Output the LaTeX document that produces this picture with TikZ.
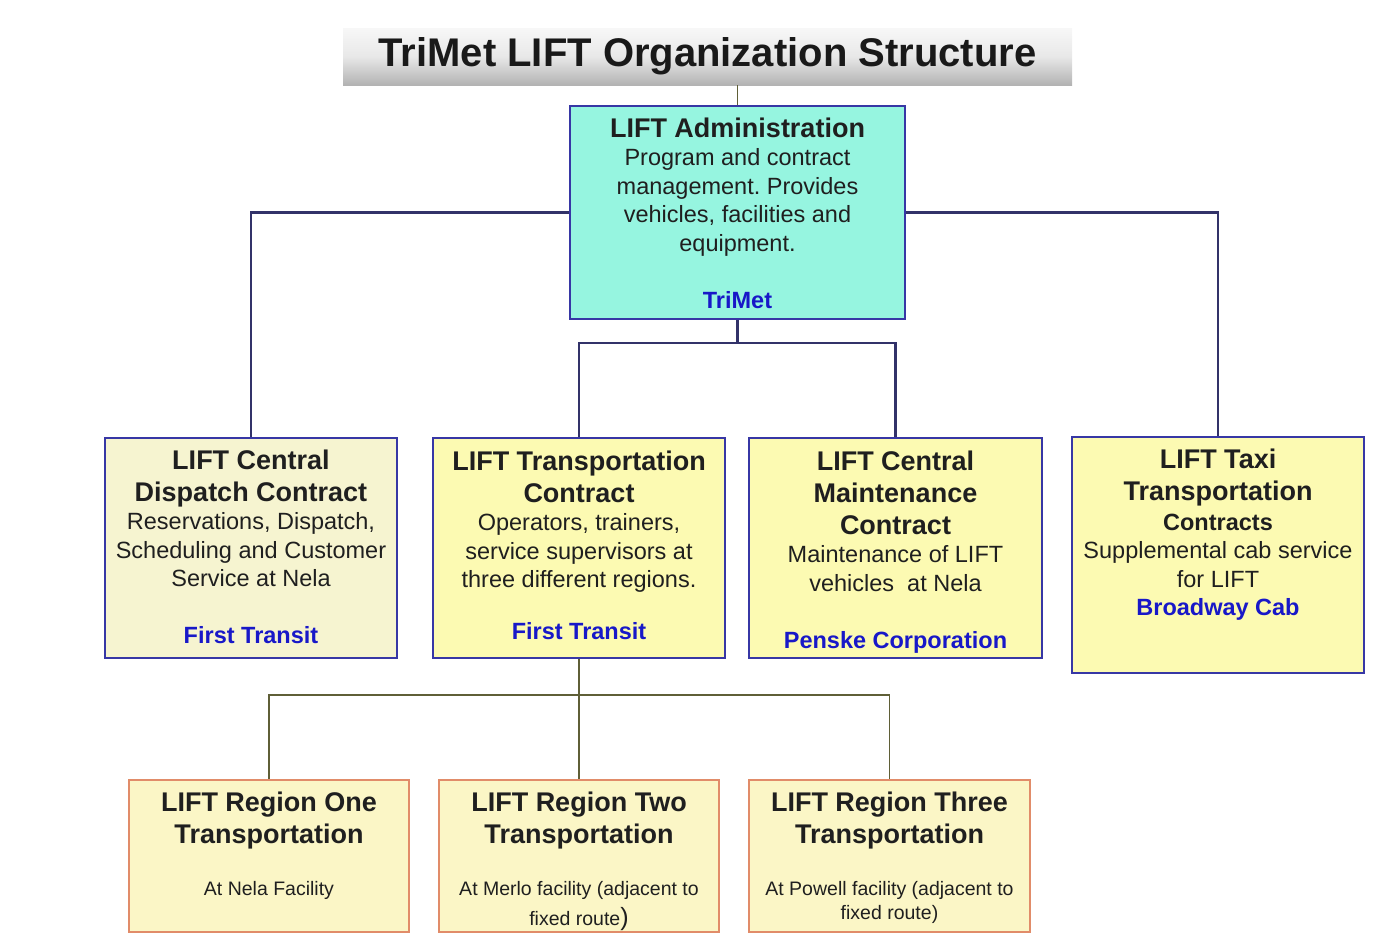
\documentclass[tikz,border=0pt]{standalone}
\usepackage{fontspec}
\setmainfont{Liberation Sans}
\usetikzlibrary{positioning}
\frenchspacing
\definecolor{orgblue}{RGB}{24,24,200}
\definecolor{navyline}{RGB}{50,50,105}
\definecolor{boxedge}{RGB}{55,55,165}
\definecolor{oliveline}{RGB}{95,95,55}
\definecolor{regionedge}{RGB}{225,140,105}
\definecolor{adminfill}{RGB}{150,245,224}
\definecolor{dispfill}{RGB}{246,244,208}
\definecolor{contfill}{RGB}{252,250,178}
\definecolor{regionfill}{RGB}{251,246,198}
\newcommand{\orgtext}[3]{\begin{minipage}[c][#2][t]{#1}\centering #3\end{minipage}}
\newcommand{\hdfont}{\fontsize{27}{32}\selectfont\bfseries}
\newcommand{\bdfont}{\fontsize{23.5}{28.5}\selectfont}
\newcommand{\subfont}{\fontsize{19.5}{30}\selectfont}
\newcommand{\orgname}[1]{{\fontsize{23.5}{28.5}\selectfont\bfseries\leavevmode\color{orgblue}#1\par}}
\begin{document}
\begin{tikzpicture}[x=1pt,y=-1pt,
    orgbox/.style={draw=boxedge,line width=1.6pt,inner sep=0pt,text=black!88},
    regionbox/.style={draw=regionedge,line width=1.4pt,fill=regionfill,inner sep=0pt,text=black!88},
    navylink/.style={draw=navyline,line width=2.4pt},
    olivelink/.style={draw=oliveline,line width=1.6pt},
    titlebar/.style={minimum width=729pt,minimum height=57pt,inner sep=0pt,top color=gray!6,bottom color=gray!60,middle color=gray!18,font=\fontsize{40}{48}\selectfont\bfseries,text=black!90}]
    \useasboundingbox (0,0) rectangle (1393,948);
    \node[titlebar] (title) at (707.5,56.5) {TriMet LIFT Organization Structure};
    \node[orgbox,fill=adminfill] (adm) at (737.5,212.5) {\orgtext{335pt}{213pt}{%
        {\hdfont\rule{0pt}{31pt}LIFT Administration\par}
        {\bdfont Program and contract\\management. Provides\\vehicles, facilities and\\equipment.\par}
        \vspace{28.5pt}\orgname{TriMet}}};
    \node[orgbox,fill=dispfill] (dsp) at (251,548) {\orgtext{292pt}{220pt}{%
        {\hdfont\rule{0pt}{31pt}LIFT Central\\Dispatch Contract\par}
        {\bdfont Reservations, Dispatch,\\Scheduling and Customer\\Service at Nela\par}
        \vspace{28.5pt}\orgname{First Transit}}};
    \node[orgbox,fill=contfill] (trn) at (579,548) {\orgtext{292pt}{220pt}{%
        {\hdfont\rule{0pt}{32pt}LIFT Transportation\\Contract\par}
        {\bdfont Operators, trainers,\\service supervisors at\\three different regions.\par}
        \vspace{23.5pt}\orgname{First Transit}}};
    \node[orgbox,fill=contfill] (mnt) at (895.5,548) {\orgtext{293pt}{220pt}{%
        {\hdfont\rule{0pt}{32pt}LIFT Central\\Maintenance\\Contract\par}
        {\bdfont Maintenance of LIFT\\vehicles \ at Nela\par}
        \vspace{28.5pt}\orgname{Penske Corporation}}};
    \node[orgbox,fill=contfill] (taxi) at (1218,555) {\orgtext{292pt}{236pt}{%
        {\hdfont\rule{0pt}{31pt}LIFT Taxi\\Transportation\par}
        {\fontsize{23.5}{30}\selectfont\bfseries Contracts\par}
        {\bdfont Supplemental cab service\\for LIFT\par}
        \orgname{Broadway Cab}}};
    \node[regionbox] (rg1) at (269,856) {\orgtext{280pt}{152pt}{%
        {\hdfont\rule{0pt}{31pt}LIFT Region One\\Transportation\par}
        \vspace{22pt}{\subfont At Nela Facility\par}}};
    \node[regionbox] (rg2) at (579,856) {\orgtext{280pt}{152pt}{%
        {\hdfont\rule{0pt}{31pt}LIFT Region Two\\Transportation\par}
        \vspace{22pt}{\subfont At Merlo facility (adjacent to\\fixed route{\fontsize{25}{30}\selectfont)}\par}}};
    \node[regionbox] (rg3) at (889.5,856) {\orgtext{281pt}{152pt}{%
        {\hdfont\rule{0pt}{31pt}LIFT Region Three\\Transportation\par}
        \vspace{28pt}{\fontsize{19.5}{24}\selectfont At Powell facility (adjacent to\\fixed route)\par}}};
    \draw[olivelink,line width=1.2pt] (adm.north) -- (adm.north |- title.south);
    \draw[navylink] (adm.west) -| (dsp.north);
    \draw[navylink] (adm.east) -| (taxi.north);
    \coordinate[below=23pt of adm.south] (admfork);
    \draw[navylink] (adm.south) -- (admfork) -| (trn.north);
    \draw[navylink] (admfork) -| (mnt.north);
    \coordinate[below=36pt of trn.south] (trnfork);
    \draw[olivelink] (trn.south) -- (trnfork) -| (rg1.north);
    \draw[olivelink] (trnfork) -- (rg2.north);
    \draw[olivelink] (trnfork) -| (rg3.north);
\end{tikzpicture}
\end{document}
